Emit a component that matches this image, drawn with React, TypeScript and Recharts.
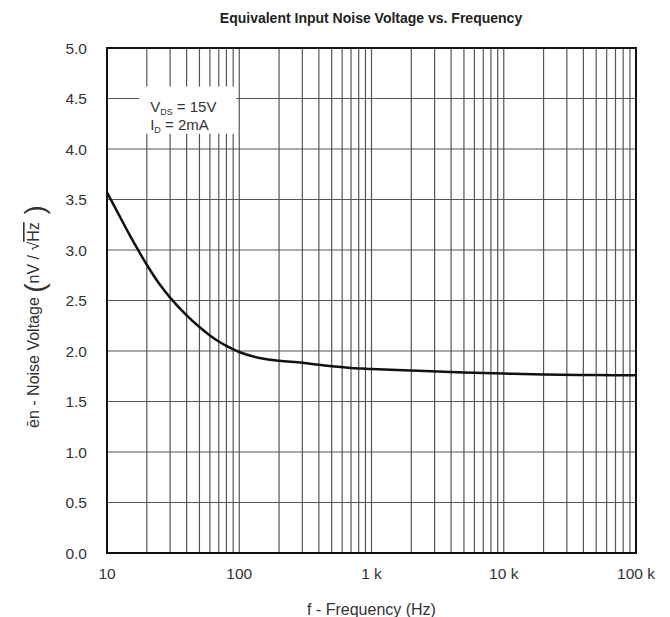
import React from "react";
import {
  LineChart,
  Line,
  XAxis,
  YAxis,
  CartesianGrid,
  ReferenceArea,
  Customized,
} from "recharts";

// frequency (Hz) and noise voltage (nV/rtHz)
const FREQ = [10, 12, 15, 17, 20, 25, 30, 40, 50, 60, 70, 80, 100, 150, 200, 300, 400, 500, 700, 1000, 2000, 5000, 10000, 20000, 50000, 100000];
const NOISE = [3.57, 3.375, 3.137, 3.01, 2.854, 2.66, 2.528, 2.353, 2.237, 2.154, 2.094, 2.05, 1.99, 1.925, 1.903, 1.884, 1.863, 1.848, 1.832, 1.822, 1.806, 1.787, 1.776, 1.767, 1.762, 1.76];

const X_TICKS = [
  10, 20, 30, 40, 50, 60, 70, 80, 90,
  100, 200, 300, 400, 500, 600, 700, 800, 900,
  1000, 2000, 3000, 4000, 5000, 6000, 7000, 8000, 9000,
  10000, 20000, 30000, 40000, 50000, 60000, 70000, 80000, 90000,
  100000,
];
const X_LABELS: Record<number, string> = { 10: "10", 100: "100", 1000: "1 k", 10000: "10 k", 100000: "100 k" };
const Y_TICKS = [0, 0.5, 1, 1.5, 2, 2.5, 3, 3.5, 4, 4.5, 5];

const data = FREQ.map((f, i) => ({ f, v: NOISE[i] }));

const FONT = "'Liberation Sans', Arial, sans-serif";
const TEXT = "#333";

function Title() {
  return (
    <text x={371} y={23} textAnchor="middle" fontFamily={FONT} fontSize={14} fontWeight="bold" fill="#222">
      Equivalent Input Noise Voltage vs. Frequency
    </text>
  );
}

function YLabel({ viewBox }: any) {
  const cx = viewBox.x - 14;
  const cy = viewBox.y + viewBox.height / 2 + 16;
  return (
    <text
      x={cx}
      y={cy}
      transform={`rotate(-90, ${cx}, ${cy})`}
      textAnchor="middle"
      dominantBaseline="central"
      fontFamily={FONT}
      fontSize={16}
      fill={TEXT}
    >
      <tspan>ēn - Noise Voltage </tspan>
      <tspan fontSize={28} dy={1}>(</tspan>
      <tspan dy={-1}>nV / √</tspan>
      <tspan style={{ textDecoration: "overline" }}>Hz</tspan>
      <tspan fontSize={28} dy={1}> )</tspan>
    </text>
  );
}

function CondLabel({ viewBox }: any) {
  const x = viewBox.x + 11;
  const y = viewBox.y + 26;
  return (
    <text fontFamily={FONT} fontSize={15} fill={TEXT}>
      <tspan x={x} y={y}>V</tspan>
      <tspan fontSize={9} dy={3}>DS</tspan>
      <tspan dy={-3}> = 15V</tspan>
      <tspan x={x} y={y + 18}>I</tspan>
      <tspan fontSize={9} dy={3}>D</tspan>
      <tspan dy={-3}> = 2mA</tspan>
    </text>
  );
}

export default function App() {
  return (
    <div style={{ position: "absolute", left: 0, top: 0, width: 670, height: 617, background: "#fff" }}>
      <LineChart width={670} height={617} data={data} margin={{ top: 48, right: 34, bottom: 24, left: 47 }}>
        <CartesianGrid stroke="#555" strokeWidth={1.2} />
        <XAxis
          dataKey="f"
          type="number"
          scale="log"
          domain={[10, 100000]}
          ticks={X_TICKS}
          interval={0}
          tickFormatter={(v: number) => X_LABELS[v] ?? ""}
          tickLine={false}
          axisLine={false}
          tickMargin={9}
          height={40}
          tick={{ fontFamily: FONT, fontSize: 15.5, fill: TEXT }}
          label={{ value: "f - Frequency (Hz)", position: "bottom", offset: 11, fontFamily: FONT, fontSize: 16, fill: TEXT }}
          allowDataOverflow
        />
        <YAxis
          type="number"
          domain={[0, 5]}
          ticks={Y_TICKS}
          interval={0}
          tickFormatter={(v: number) => v.toFixed(1)}
          tickLine={false}
          axisLine={false}
          tickMargin={14}
          width={60}
          tick={{ fontFamily: FONT, fontSize: 15.5, fill: TEXT }}
          label={<YLabel />}
        />
        <ReferenceArea
          x1={17.5}
          x2={95}
          y1={4.15}
          y2={4.62}
          fill="#fff"
          fillOpacity={1}
          stroke="none"
          label={<CondLabel />}
        />
        <Line
          type="monotone"
          dataKey="v"
          stroke="#111"
          strokeWidth={2.5}
          dot={false}
          isAnimationActive={false}
        />
        <ReferenceArea x1={10} x2={100000} y1={0} y2={5} fill="none" stroke="#111" strokeWidth={2} />
        <Customized component={Title} />
      </LineChart>
    </div>
  );
}
